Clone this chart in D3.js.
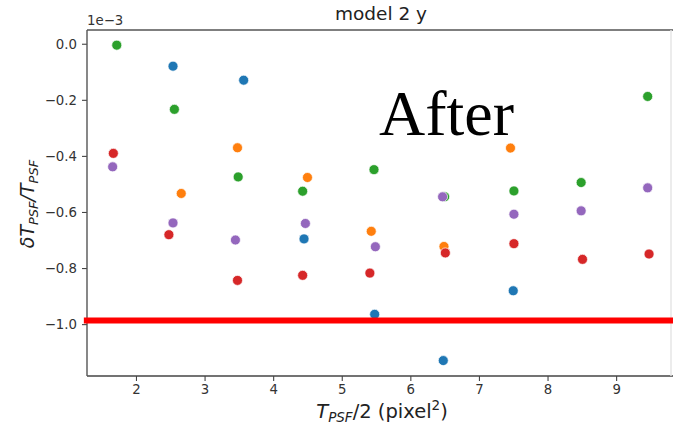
<!DOCTYPE html>
<html>
<head>
<meta charset="utf-8">
<script src="https://cdn.jsdelivr.net/npm/d3@7.9.0/dist/d3.min.js"></script>
<style>
  html, body { margin: 0; padding: 0; background: #fff; }
  svg { display: block; font-family: "DejaVu Sans", sans-serif; }
</style>
</head>
<body>
<svg id="chart" width="673" height="429"></svg>
<script>
// ---------------------------------------------------------------------------
// data (y values are in units of 1e-3)
// ---------------------------------------------------------------------------
const xTicks = [2, 3, 4, 5, 6, 7, 8, 9];
const yTicks = [0.0, -0.2, -0.4, -0.6, -0.8, -1.0];

const blueX   = [2.54, 3.57, 4.45, 5.48, 6.48, 7.50];
const blueY   = [-0.080, -0.130, -0.696, -0.965, -1.130, -0.881];
const orangeX = [2.66, 3.48, 4.50, 5.43, 6.49, 7.46];
const orangeY = [-0.534, -0.371, -0.477, -0.669, -0.723, -0.372];
const greenX  = [1.72, 2.56, 3.49, 4.43, 5.47, 6.50, 7.51, 8.49, 9.46];
const greenY  = [-0.005, -0.234, -0.475, -0.526, -0.449, -0.546, -0.525, -0.495, -0.188];
const redX    = [1.67, 2.48, 3.48, 4.43, 5.41, 6.51, 7.51, 8.51, 9.48];
const redY    = [-0.391, -0.681, -0.844, -0.826, -0.818, -0.746, -0.713, -0.769, -0.750];
const purpleX = [1.66, 2.54, 3.45, 4.47, 5.49, 6.47, 7.51, 8.49, 9.46];
const purpleY = [-0.439, -0.639, -0.700, -0.641, -0.724, -0.546, -0.608, -0.596, -0.514];

// red threshold line drawn over the plot
const thresholdY = -0.987;
const thresholdX = [1.24, 9.86];

const series = [
  { color: '#1f77b4', xs: blueX,   ys: blueY },
  { color: '#ff7f0e', xs: orangeX, ys: orangeY },
  { color: '#2ca02c', xs: greenX,  ys: greenY },
  { color: '#d62728', xs: redX,    ys: redY },
  { color: '#9467bd', xs: purpleX, ys: purpleY }
];

// ---------------------------------------------------------------------------
// layout
// ---------------------------------------------------------------------------
const plot = { left: 87, right: 671, top: 30, bottom: 376 };
const svg = d3.select('#chart');

const x = d3.scaleLinear().domain([1.286, 9.80]).range([plot.left, plot.right]);
const y = d3.scaleLinear().domain([-1.185, 0.049]).range([plot.bottom, plot.top]);

const fmt = v => (v === 0 ? '0.0' : d3.format('.1f')(v).replace('-', '\u2212'));

// axes
const xAxis = svg.append('g')
  .attr('transform', `translate(0,${plot.bottom})`)
  .call(d3.axisBottom(x).tickValues(xTicks).tickSize(5).tickPadding(4).tickFormat(d3.format('d')));
const yAxis = svg.append('g')
  .attr('transform', `translate(${plot.left},0)`)
  .call(d3.axisLeft(y).tickValues(yTicks).tickSize(5).tickPadding(5).tickFormat(fmt));

[xAxis, yAxis].forEach(g => {
  g.select('.domain').remove();
  g.selectAll('.tick line').attr('stroke', '#444').attr('stroke-width', 1.1);
  g.selectAll('.tick text').attr('fill', '#333').style('font-size', '13.3px')
    .style('font-family', '"DejaVu Sans", sans-serif');
});

// spines (right one is cut at the image edge, so it shows faint)
const spine = (x1, y1, x2, y2, c) => svg.append('line')
  .attr('x1', x1).attr('y1', y1).attr('x2', x2).attr('y2', y2)
  .attr('stroke', c).attr('stroke-width', 1.4);
spine(plot.left, plot.top, 673, plot.top, '#555');
spine(plot.left, plot.bottom, 673, plot.bottom, '#444');
spine(plot.left, plot.top, plot.left, plot.bottom, '#555');
spine(plot.right, plot.top, plot.right, plot.bottom, '#e4e4e4');

// points, drawn in series order
series.forEach(s => {
  svg.append('g').selectAll('circle')
    .data(s.xs.map((v, i) => [v, s.ys[i]]))
    .join('circle')
    .attr('cx', d => x(d[0]))
    .attr('cy', d => y(d[1]))
    .attr('r', 5)
    .attr('fill', s.color)
    .attr('stroke', '#fff')
    .attr('stroke-width', 0.7);
});

// threshold line
svg.append('line')
  .attr('x1', x(thresholdX[0])).attr('x2', x(thresholdX[1]))
  .attr('y1', y(thresholdY)).attr('y2', y(thresholdY))
  .attr('stroke', '#ff0000').attr('stroke-width', 6);

// "After" annotation
svg.append('text')
  .attr('x', 379).attr('y', 135)
  .style('font-family', '"Liberation Serif", "Times New Roman", serif')
  .style('font-size', '64px')
  .attr('fill', '#000')
  .text('After');

// title
svg.append('text')
  .attr('x', 381).attr('y', 20)
  .attr('text-anchor', 'middle')
  .style('font-size', '18.5px')
  .attr('fill', '#222')
  .text('model 2 y');

// offset text
svg.append('text')
  .attr('x', plot.left).attr('y', 25)
  .style('font-size', '13.3px')
  .attr('fill', '#333')
  .text('1e\u22123');

// x label: T_PSF/2 (pixel^2)
const xl = svg.append('text')
  .attr('x', 382).attr('y', 418)
  .attr('text-anchor', 'middle')
  .style('font-size', '19.5px')
  .attr('fill', '#222');
xl.append('tspan').style('font-style', 'italic').text('T');
xl.append('tspan').style('font-style', 'italic').style('font-size', '13.5px').attr('dy', 4).text('PSF');
xl.append('tspan').attr('dy', -4).text('/2 (pixel');
xl.append('tspan').style('font-size', '13.5px').attr('dy', -8).text('2');
xl.append('tspan').attr('dy', 8).text(')');

// y label: δT_PSF/T_PSF
const yl = svg.append('text')
  .attr('transform', 'translate(34,204) rotate(-90)')
  .attr('text-anchor', 'middle')
  .style('font-size', '19px')
  .style('font-style', 'italic')
  .attr('fill', '#222');
yl.append('tspan').text('\u03b4T');
yl.append('tspan').style('font-size', '13px').attr('dy', 4).text('PSF');
yl.append('tspan').attr('dy', -4).text('/T');
yl.append('tspan').style('font-size', '13px').attr('dy', 4).text('PSF');
</script>
</body>
</html>
